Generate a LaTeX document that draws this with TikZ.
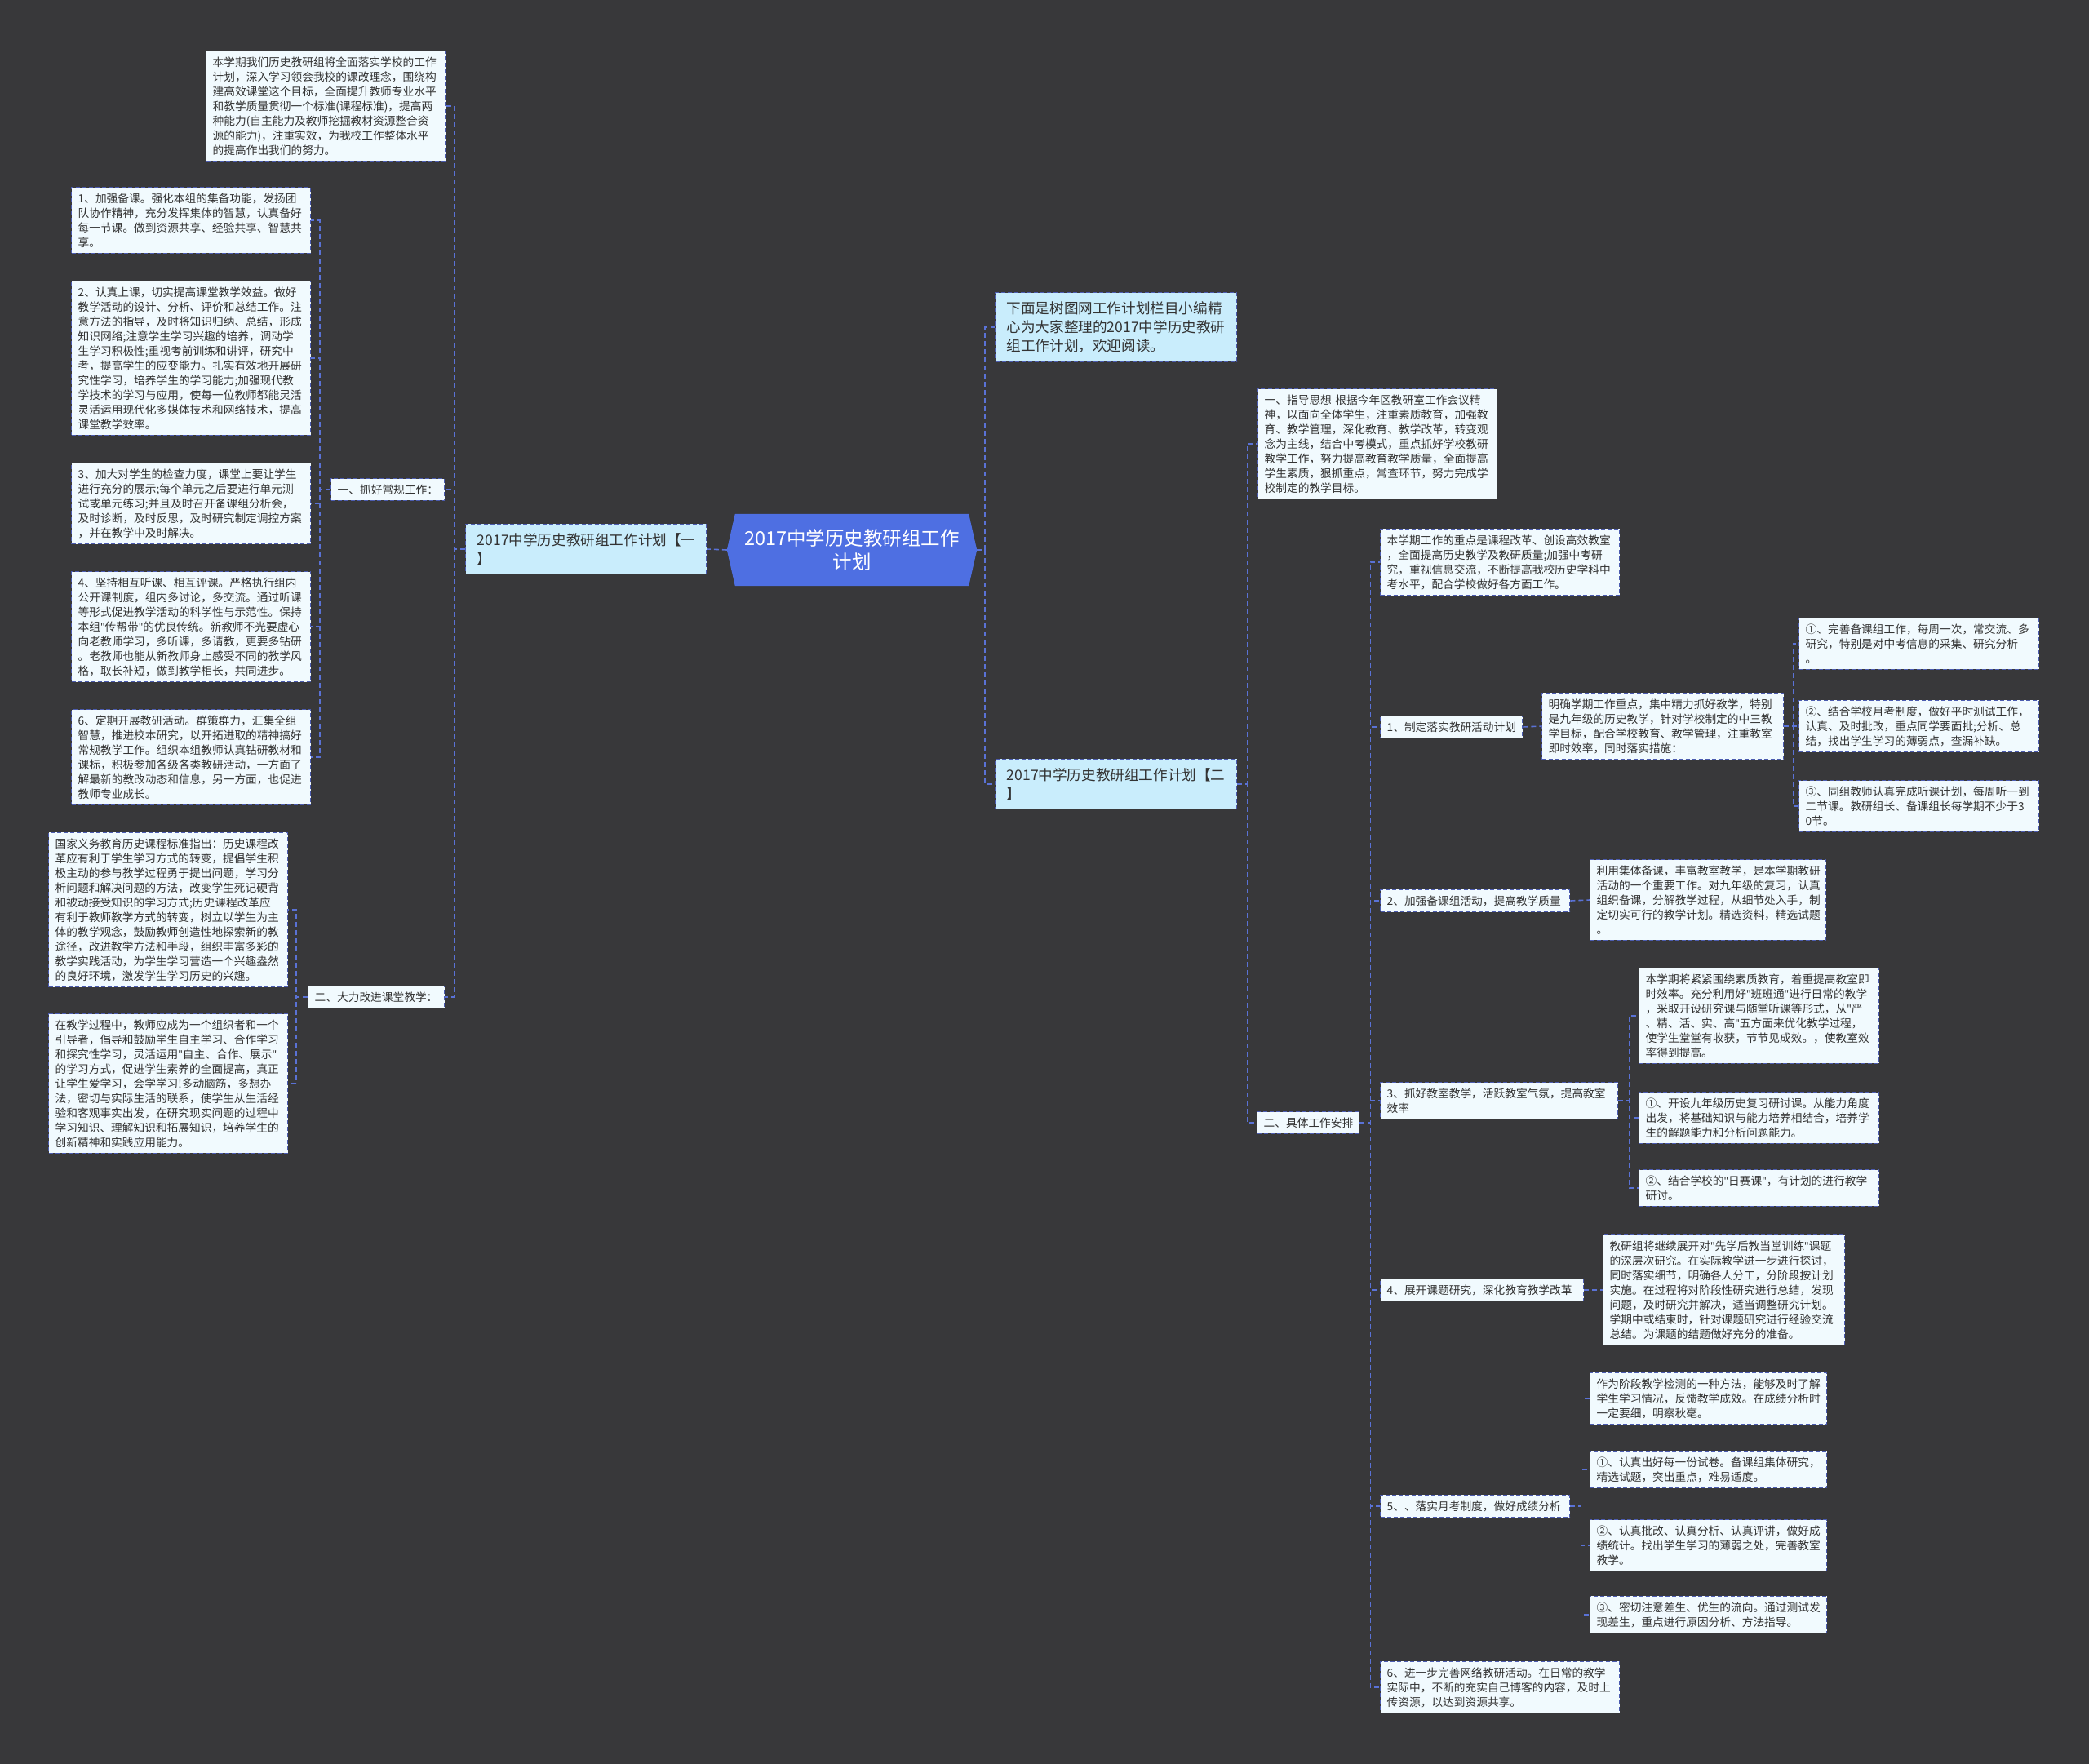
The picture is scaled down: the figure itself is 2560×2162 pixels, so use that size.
\documentclass[tikz,border=0pt]{standalone}
\usepackage{fontspec}
\setmainfont{Noto Sans CJK SC}
\newfontfamily\latinfont{Noto Sans}
\usepackage{xcolor}
\usepackage{tikz}
\usetikzlibrary{calc,backgrounds}
\definecolor{bgc}{HTML}{38383A}
\definecolor{lnk}{HTML}{5A72D6}
\definecolor{edge}{HTML}{4C5CB0}
\definecolor{leafbg}{HTML}{F1FAFE}
\definecolor{lvlbg}{HTML}{C9EDFC}
\definecolor{rootc}{HTML}{4E6FE2}
\definecolor{ink}{HTML}{333333}
\newcommand\leaffont{\fontsize{13.7pt}{18pt}\selectfont}
\newcommand\lvlfont{\fontsize{17.6pt}{23pt}\selectfont}
\newcommand\rootfont{\fontsize{23.5pt}{29pt}\selectfont}
\newcommand\dq{{\latinfont\char34}}
\tikzset{
  leaf/.style = {rectangle, draw=edge, dash pattern=on 5pt off 3pt, line width=1.4pt,
                 fill=leafbg, text=ink, align=left, font=\leaffont,
                 inner xsep=8pt, inner ysep=7pt, anchor=west},
  lvl/.style  = {leaf, fill=lvlbg, font=\lvlfont, inner xsep=14pt, inner ysep=11pt},
  lk/.style   = {lnk, line width=1.6pt, dash pattern=on 6pt off 4pt},
}

\begin{document}
\begin{tikzpicture}[x=1pt,y=-1pt]

  \useasboundingbox (0,0) rectangle (2560,2162);
  \begin{scope}[on background layer]
    \fill[bgc] (0,0) rectangle (2560,2162);
  \end{scope}

  \node[font=\rootfont, text=white, align=center, minimum width=306pt, minimum height=88pt] (root) at (1044,674) {2017中学历史教研组工作\\计划};
  \begin{scope}[on background layer]
    \fill[rootc] ([xshift=10pt]root.north west) -- ([xshift=-10pt]root.north east) -- (root.east)
      -- ([xshift=-10pt]root.south east) -- ([xshift=10pt]root.south west) -- (root.west) -- cycle;
  \end{scope}

  % left half
  \node[lvl, text width=267pt] (p1) at (570,673) {2017中学历史教研组工作计划【一\\】};
  \node[leaf, text width=277pt] (intro1) at (252,130) {本学期我们历史教研组将全面落实学校的工作\\计划，深入学习领会我校的课改理念，围绕构\\建高效课堂这个目标，全面提升教师专业水平\\和教学质量贯彻一个标准(课程标准)，提高两\\种能力(自主能力及教师挖掘教材资源整合资\\源的能力)，注重实效，为我校工作整体水平\\的提高作出我们的努力。};
  \node[leaf, text width=123pt] (cg) at (405,600) {一、抓好常规工作：};
  \node[leaf, text width=277pt] (rz1) at (87,270) {1、加强备课。强化本组的集备功能，发扬团\\队协作精神，充分发挥集体的智慧，认真备好\\每一节课。做到资源共享、经验共享、智慧共\\享。};
  \node[leaf, text width=277pt] (rz2) at (87,439) {2、认真上课，切实提高课堂教学效益。做好\\教学活动的设计、分析、评价和总结工作。注\\意方法的指导，及时将知识归纳、总结，形成\\知识网络;注意学生学习兴趣的培养，调动学\\生学习积极性;重视考前训练和讲评，研究中\\考，提高学生的应变能力。扎实有效地开展研\\究性学习，培养学生的学习能力;加强现代教\\学技术的学习与应用，使每一位教师都能灵活\\灵活运用现代化多媒体技术和网络技术，提高\\课堂教学效率。};
  \node[leaf, text width=277pt] (rz3) at (87,617) {3、加大对学生的检查力度，课堂上要让学生\\进行充分的展示;每个单元之后要进行单元测\\试或单元练习;并且及时召开备课组分析会，\\及时诊断，及时反思，及时研究制定调控方案\\，并在教学中及时解决。};
  \node[leaf, text width=277pt] (rz4) at (87,768) {4、坚持相互听课、相互评课。严格执行组内\\公开课制度，组内多讨论，多交流。通过听课\\等形式促进教学活动的科学性与示范性。保持\\本组\dq 传帮带\dq 的优良传统。新教师不光要虚心\\向老教师学习，多听课，多请教，更要多钻研\\。老教师也能从新教师身上感受不同的教学风\\格，取长补短，做到教学相长，共同进步。};
  \node[leaf, text width=277pt] (rz6) at (87,928) {6、定期开展教研活动。群策群力，汇集全组\\智慧，推进校本研究，以开拓进取的精神搞好\\常规教学工作。组织本组教师认真钻研教材和\\课标，积极参加各级各类教研活动，一方面了\\解最新的教改动态和信息，另一方面，也促进\\教师专业成长。};
  \node[leaf, text width=151pt] (kt) at (377,1222) {二、大力改进课堂教学：};
  \node[leaf, text width=277pt] (kt1) at (59,1115) {国家义务教育历史课程标准指出：历史课程改\\革应有利于学生学习方式的转变，提倡学生积\\极主动的参与教学过程勇于提出问题，学习分\\析问题和解决问题的方法，改变学生死记硬背\\和被动接受知识的学习方式;历史课程改革应\\有利于教师教学方式的转变，树立以学生为主\\体的教学观念，鼓励教师创造性地探索新的教\\途径，改进教学方法和手段，组织丰富多彩的\\教学实践活动，为学生学习营造一个兴趣盎然\\的良好环境，激发学生学习历史的兴趣。};
  \node[leaf, text width=277pt] (kt2) at (59,1328) {在教学过程中，教师应成为一个组织者和一个\\引导者，倡导和鼓励学生自主学习、合作学习\\和探究性学习，灵活运用\dq 自主、合作、展示\dq\\的学习方式，促进学生素养的全面提高，真正\\让学生爱学习，会学学习!多动脑筋，多想办\\法，密切与实际生活的联系，使学生从生活经\\验和客观事实出发，在研究现实问题的过程中\\学习知识、理解知识和拓展知识，培养学生的\\创新精神和实践应用能力。};

  % right half
  \node[lvl, text width=268pt] (intro2) at (1219,401) {下面是树图网工作计划栏目小编精\\心为大家整理的2017中学历史教研\\组工作计划，欢迎阅读。};
  \node[lvl, text width=268pt] (p2) at (1219,961) {2017中学历史教研组工作计划【二\\】};
  \node[leaf, text width=277pt] (zd) at (1541,544) {一、指导思想 根据今年区教研室工作会议精\\神，以面向全体学生，注重素质教育，加强教\\育、教学管理，深化教育、教学改革，转变观\\念为主线，结合中考模式，重点抓好学校教研\\教学工作，努力提高教育教学质量，全面提高\\学生素质，狠抓重点，常查环节，努力完成学\\校制定的教学目标。};
  \node[leaf, text width=109pt] (jt) at (1540,1376) {二、具体工作安排};
  \node[leaf, text width=277pt] (zd2) at (1691,689) {本学期工作的重点是课程改革、创设高效教室\\，全面提高历史教学及教研质量;加强中考研\\究，重视信息交流，不断提高我校历史学科中\\考水平，配合学校做好各方面工作。};
  \node[leaf, text width=158pt] (a1) at (1691,891) {1、制定落实教研活动计划};
  \node[leaf, text width=280pt] (a1d) at (1889,890) {明确学期工作重点，集中精力抓好教学，特别\\是九年级的历史教学，针对学校制定的中三教\\学目标，配合学校教育、教学管理，注重教室\\即时效率，同时落实措施：};
  \node[leaf, text width=278pt] (a1x) at (2204,789) {①、完善备课组工作，每周一次，常交流、多\\研究，特别是对中考信息的采集、研究分析\\。};
  \node[leaf, text width=278pt] (a1y) at (2204,890) {②、结合学校月考制度，做好平时测试工作，\\认真、及时批改，重点同学要面批;分析、总\\结，找出学生学习的薄弱点，查漏补缺。};
  \node[leaf, text width=278pt] (a1z) at (2204,988) {③、同组教师认真完成听课计划，每周听一到\\二节课。教研组长、备课组长每学期不少于3\\0节。};
  \node[leaf, text width=216pt] (a2) at (1691,1104) {2、加强备课组活动，提高教学质量};
  \node[leaf, text width=273pt] (a2d) at (1948,1103) {利用集体备课，丰富教室教学，是本学期教研\\活动的一个重要工作。对九年级的复习，认真\\组织备课，分解教学过程，从细节处入手，制\\定切实可行的教学计划。精选资料，精选试题\\。};
  \node[leaf, text width=275pt] (a3) at (1691,1349) {3、抓好教室教学，活跃教室气氛，提高教室\\效率};
  \node[leaf, text width=278pt] (a3d) at (2008,1245) {本学期将紧紧围绕素质教育，着重提高教室即\\时效率。充分利用好\dq 班班通\dq 进行日常的教学\\，采取开设研究课与随堂听课等形式，从\dq 严\\、精、活、实、高\dq 五方面来优化教学过程，\\使学生堂堂有收获，节节见成效。，使教室效\\率得到提高。};
  \node[leaf, text width=278pt] (a3x) at (2008,1370) {①、开设九年级历史复习研讨课。从能力角度\\出发，将基础知识与能力培养相结合，培养学\\生的解题能力和分析问题能力。};
  \node[leaf, text width=278pt] (a3y) at (2008,1456) {②、结合学校的\dq 日赛课\dq ，有计划的进行教学\\研讨。};
  \node[leaf, text width=233pt] (a4) at (1691,1581) {4、展开课题研究，深化教育教学改革};
  \node[leaf, text width=280pt] (a4d) at (1964,1581) {教研组将继续展开对\dq 先学后教当堂训练\dq 课题\\的深层次研究。在实际教学进一步进行探讨，\\同时落实细节，明确各人分工，分阶段按计划\\实施。在过程将对阶段性研究进行总结，发现\\问题，及时研究并解决，适当调整研究计划。\\学期中或结束时，针对课题研究进行经验交流\\总结。为课题的结题做好充分的准备。};
  \node[leaf, text width=216pt] (a5) at (1691,1846) {5、、落实月考制度，做好成绩分析};
  \node[leaf, text width=274pt] (a5d) at (1948,1714) {作为阶段教学检测的一种方法，能够及时了解\\学生学习情况，反馈教学成效。在成绩分析时\\一定要细，明察秋毫。};
  \node[leaf, text width=274pt] (a5x) at (1948,1801) {①、认真出好每一份试卷。备课组集体研究，\\精选试题，突出重点，难易适度。};
  \node[leaf, text width=274pt] (a5y) at (1948,1894) {②、认真批改、认真分析、认真评讲，做好成\\绩统计。找出学生学习的薄弱之处，完善教室\\教学。};
  \node[leaf, text width=274pt] (a5z) at (1948,1979) {③、密切注意差生、优生的流向。通过测试发\\现差生，重点进行原因分析、方法指导。};
  \node[leaf, text width=277pt] (a6) at (1691,2068) {6、进一步完善网络教研活动。在日常的教学\\实际中，不断的充实自己博客的内容，及时上\\传资源，以达到资源共享。};

  \draw[lk] (root.west) -- (p1.east);
  \draw[lk] (p1.west) -- ++(-13,0) |- (intro1.east);
  \draw[lk] (p1.west) -- ++(-13,0) |- (cg.east);
  \draw[lk] (p1.west) -- ++(-13,0) |- (kt.east);
  \foreach \c in {rz1,rz2,rz3,rz4,rz6}
    \draw[lk] (cg.west) -- ++(-13,0) |- (\c.east);
  \foreach \c in {kt1,kt2}
    \draw[lk] (kt.west) -- ++(-14,0) |- (\c.east);

  \draw[lk] (root.east) -- ++(10,0) |- (intro2.west);
  \draw[lk] (root.east) -- ++(10,0) |- (p2.west);
  \draw[lk] (p2.east) -- ++(12,0) |- (zd.west);
  \draw[lk] (p2.east) -- ++(12,0) |- (jt.west);
  \foreach \c in {zd2,a1,a2,a3,a4,a5,a6}
    \draw[lk] (jt.east) -- ++(13,0) |- (\c.west);
  \draw[lk] (a1.east) -- (a1d.west);
  \foreach \c in {a1x,a1y,a1z}
    \draw[lk] (a1d.east) -- ++(11,0) |- (\c.west);
  \draw[lk] (a2.east) -- (a2d.west);
  \foreach \c in {a3d,a3x,a3y}
    \draw[lk] (a3.east) -- ++(13,0) |- (\c.west);
  \draw[lk] (a4.east) -- (a4d.west);
  \foreach \c in {a5d,a5x,a5y,a5z}
    \draw[lk] (a5.east) -- ++(13,0) |- (\c.west);

\end{tikzpicture}
\end{document}
